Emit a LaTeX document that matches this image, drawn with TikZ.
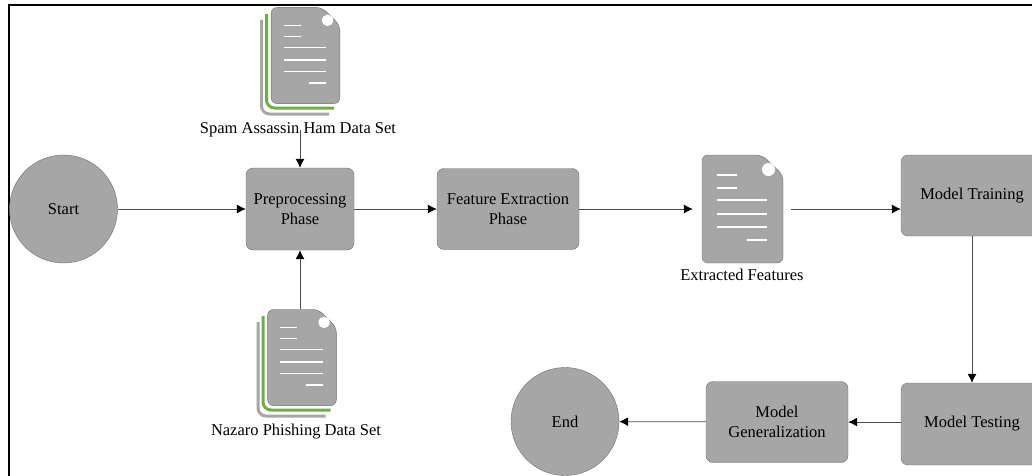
\documentclass[tikz,border=0pt]{standalone}
\usepackage{fontspec}
\setmainfont{Liberation Serif}
\usetikzlibrary{arrows.meta}
\definecolor{boxgray}{HTML}{A6A6A6}
\definecolor{edgegray}{HTML}{6E6E6E}
\definecolor{stripgreen}{HTML}{70AD47}
\tikzset{
    phase/.style={draw=edgegray, fill=boxgray, rounded corners=7pt, align=center, inner sep=0pt},
    terminal/.style={draw=edgegray, fill=boxgray, circle, inner sep=0pt},
    dataslot/.style={inner sep=0pt},
    caption/.style={inner sep=0pt},
    flow/.style={draw=black!70, line width=0.8pt, -{Latex[length=9pt,width=9pt,black]}},
    pics/docsheet/.style={code={
        \draw[draw=edgegray, fill=boxgray, rounded corners=6pt] (-40.5,-54) -- (19.5,-54) -- (40.5,-34) -- (40.5,54) -- (-40.5,54) -- cycle;
        \fill[white] (26,-39.5) circle (6.5);
        \foreach \ypos in {-34,-21}
            \draw[white, line width=1.3pt] (-25.5,\ypos) -- (-5.5,\ypos);
        \foreach \ypos in {-9,5,18}
            \draw[white, line width=1.3pt] (-25.5,\ypos) -- (24.5,\ypos);
        \draw[white, line width=1.3pt] (4.5,31) -- (24.5,31);
    }},
    pics/docstack/.style={code={
        \draw[boxgray, line width=3pt, rounded corners=8pt] (-44,-35.5) -- (-44,58.5) -- (23.5,58.5);
        \draw[stripgreen, line width=3pt, rounded corners=8pt] (-39,-41.5) -- (-39,52.5) -- (28.5,52.5);
        \pic[xscale=0.85, yscale=0.89] {docsheet};
    }},
}
\begin{document}
\begin{tikzpicture}[x=1pt, y=-1pt, font=\fontsize{16.5}{20.5}\selectfont]

    \useasboundingbox (0,0) rectangle (1032,475);
    \clip (0,0) rectangle (1032,475);

    % Outer frame (runs off the right and the bottom)
    \draw[black, line width=2pt] (8.5,5) rectangle (1050,490);

    % Circles
    \node[terminal, minimum size=108pt] (start) at (63.5,209) {Start};
    \node[terminal, minimum size=108pt] (end) at (565,421.5) {End};

    % Phase boxes
    \node[phase, minimum width=108pt, minimum height=82pt] (pre) at (300,209) {Preprocessing\\Phase};
    \node[phase, minimum width=142pt, minimum height=81pt] (feature) at (508,209) {Feature Extraction\\Phase};
    \node[phase, minimum width=142pt, minimum height=81pt] (training) at (972,195.5) {Model Training};
    \node[phase, minimum width=142pt, minimum height=82pt] (testing) at (972,424) {Model Testing};
    \node[phase, minimum width=142pt, minimum height=81pt] (general) at (777,422) {Model\\Generalization};

    % Documents
    \node[dataslot, minimum width=69pt, minimum height=96pt] (hamdoc) at (305.5,55.5) {};
    \pic at (hamdoc) {docstack};
    \node[dataslot, minimum width=69pt, minimum height=96pt] (phishdoc) at (302,357.5) {};
    \pic at (phishdoc) {docstack};
    \node[dataslot, minimum width=81pt, minimum height=108pt] (extracted) at (742.5,209) {};
    \pic at (extracted) {docsheet};

    % Captions
    \node[caption] (hamlabel) at (298,130) {Spam Assassin Ham Data Set};
    \node[caption] (phishlabel) at (296,431.5) {Nazaro Phishing Data Set};
    \node[caption] (extractedlabel) at (742,275) {Extracted Features};

    % Connectors
    \draw[flow] (start) -- (pre);
    \draw[flow] (pre) -- (feature);
    \draw[flow, shorten >=9pt] (feature.east) -- (feature.east -| extracted.west);
    \draw[flow, shorten <=8pt] (extracted.east) -- (extracted.east -| training.west);
    \draw[flow] (pre.north |- hamlabel.center) -- (pre.north);
    \draw[flow] (phishdoc.north -| pre.south) -- (pre.south);
    \draw[flow] (training) -- (testing);
    \draw[flow] (testing.west |- general.east) -- (general.east);
    \draw[flow] (general) -- (end);

\end{tikzpicture}
\end{document}
